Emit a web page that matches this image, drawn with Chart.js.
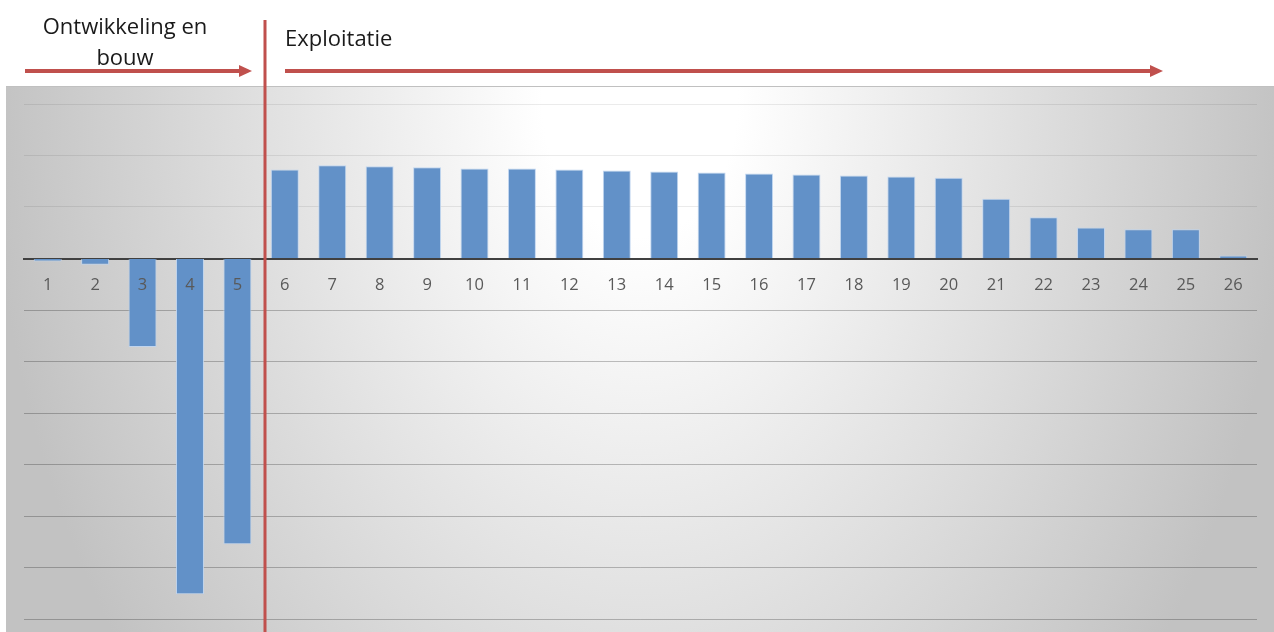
<!DOCTYPE html>
<html>
<head>
<meta charset="utf-8">
<script src="https://cdn.jsdelivr.net/npm/chart.js@4"></script>
<style>
  body { margin: 0; background: #fff; }
  #wrap { position: relative; width: 1274px; height: 632px; overflow: hidden; }
  .lbl { position: absolute; font-family: "Open Sans", sans-serif; font-size: 22px; color: #1a1a1a; line-height: 31px; white-space: nowrap; }
</style>
</head>
<body>
<div id="wrap">
  <canvas id="cashChart" width="1274" height="632"></canvas>
  <div class="lbl" style="left:30px; top:10px; width:190px; text-align:center;">Ontwikkeling en<br>bouw</div>
  <div class="lbl" style="left:285px; top:22px;">Exploitatie</div>
</div>
<script>
// Years of the project
const years = ["1", "2", "3", "4", "5", "6", "7", "8", "9", "10", "11", "12", "13",
  "14", "15", "16", "17", "18", "19", "20", "21", "22", "23", "24", "25", "26"];

// Cash flow per year (in gridline units)
const cashFlow = [-0.06, -0.12, -1.72, -6.52, -5.55, 1.73, 1.81, 1.79, 1.77, 1.75,
  1.75, 1.73, 1.71, 1.69, 1.67, 1.65, 1.63, 1.61, 1.59, 1.57, 1.16, 0.8, 0.6, 0.57, 0.57, 0.06];

// Y axis range
const yMin = -7;
const yMax = 3;

// Gray gradient panel behind the plot, phase divider and arrows on top
const panelPlugin = {
  id: "panel",
  beforeDraw(chart) {
    const ctx = chart.ctx;
    ctx.save();
    // elliptical gradient, white near the top centre
    ctx.translate(640, 100);
    ctx.scale(1, 1.4);
    const g = ctx.createRadialGradient(0, 0, 0, 0, 0, 650);
    g.addColorStop(0, "#ffffff");
    g.addColorStop(0.15, "#ffffff");
    g.addColorStop(1, "#c2c2c2");
    ctx.fillStyle = g;
    ctx.fillRect(6 - 640, (86 - 100) / 1.4, 1268, 546 / 1.4);
    ctx.restore();
    ctx.save();
    ctx.strokeStyle = "#c0c0c0";
    ctx.lineWidth = 1;
    ctx.beginPath();
    ctx.moveTo(6, 86.5);
    ctx.lineTo(1274, 86.5);
    ctx.stroke();
    ctx.restore();
  },
  afterDraw(chart) {
    const ctx = chart.ctx;
    const red = "#c0504d";
    ctx.save();
    ctx.strokeStyle = red;
    ctx.fillStyle = red;
    ctx.lineWidth = 3;
    ctx.beginPath();
    ctx.moveTo(265, 20);
    ctx.lineTo(265, 632);
    ctx.stroke();
    function arrow(x1, x2, y) {
      ctx.lineWidth = 4;
      ctx.beginPath();
      ctx.moveTo(x1, y);
      ctx.lineTo(x2 - 10, y);
      ctx.stroke();
      ctx.beginPath();
      ctx.moveTo(x2, y);
      ctx.lineTo(x2 - 13, y - 6);
      ctx.lineTo(x2 - 13, y + 6);
      ctx.closePath();
      ctx.fill();
    }
    arrow(25, 252, 71);
    arrow(285, 1163, 71);
    ctx.restore();
  }
};

const ctx = document.getElementById("cashChart").getContext("2d");
new Chart(ctx, {
  type: "bar",
  data: {
    labels: years,
    datasets: [
      {
        label: "Kasstroom",
        data: cashFlow,
        backgroundColor: "#6291c8",
        borderColor: "rgba(190,212,240,0.9)",
        borderWidth: 1,
        barPercentage: 0.59,
        categoryPercentage: 1,
      },
    ],
  },
  options: {
    responsive: false,
    animation: false,
    layout: { padding: { left: 24, right: 17, top: 104, bottom: 13 } },
    plugins: {
      legend: { display: false },
      tooltip: { enabled: false },
    },
    scales: {
      x: {
        position: { y: 0 },
        grid: { display: false, drawTicks: false, z: 0 },
        border: { display: true, color: "#404040", width: 2 },
        ticks: {
          z: 1,
          color: "#595959",
          font: { family: "Open Sans", size: 16.5 },
          padding: 17,
          maxRotation: 0,
          autoSkip: false,
        },
      },
      y: {
        min: yMin,
        max: yMax,
        ticks: { display: false, stepSize: 1 },
        grid: {
          color: (c) => (c.tick && c.tick.value > 0 ? "rgba(0,0,0,0.08)" : "rgba(0,0,0,0.24)"),
          drawTicks: false,
        },
        border: { display: false },
        afterFit: (s) => { s.width = 0; },
      },
    },
  },
  plugins: [panelPlugin],
});
</script>
</body>
</html>
